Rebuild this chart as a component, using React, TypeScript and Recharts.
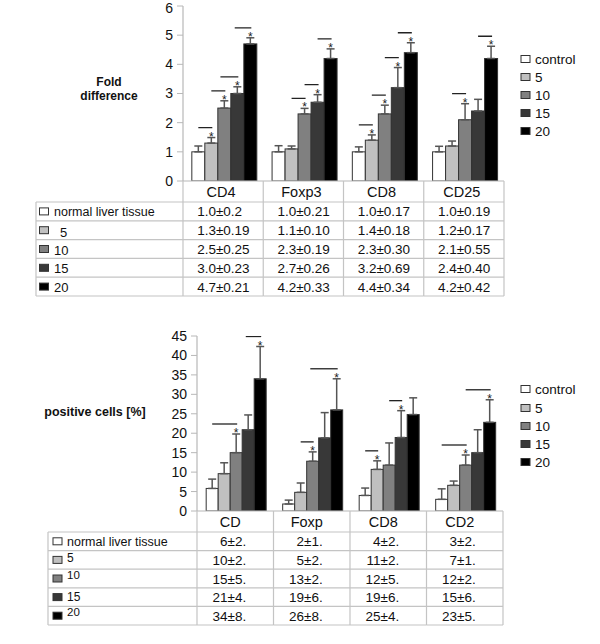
import React from 'react';
import { BarChart, Bar, XAxis, YAxis, ErrorBar } from 'recharts';

const FONT = '"Liberation Sans", Arial, Helvetica, sans-serif';

// ---------- shared ----------
const seriesNames = ['control', '5', '10', '15', '20'];
const tableRowLabels = ['normal liver tissue', '5', '10', '15', '20'];
const seriesKeys = ['c', 's5', 's10', 's15', 's20'];
const seriesFills = ['#ffffff', '#c0c0c0', '#808080', '#383838', '#000000'];

// ---------- top panel: fold difference ----------
const foldCategories = ['CD4', 'Foxp3', 'CD8', 'CD25'];
const foldYTicks = [0, 1, 2, 3, 4, 5, 6];
const foldControl = [1.0, 1.0, 1.0, 1.0];
const fold5 = [1.3, 1.1, 1.4, 1.2];
const fold10 = [2.5, 2.3, 2.3, 2.1];
const fold15 = [3.0, 2.7, 3.2, 2.4];
const fold20 = [4.7, 4.2, 4.4, 4.2];
const foldControlErr = [0.2, 0.21, 0.17, 0.19];
const fold5Err = [0.19, 0.1, 0.18, 0.17];
const fold10Err = [0.25, 0.19, 0.3, 0.55];
const fold15Err = [0.23, 0.26, 0.69, 0.4];
const fold20Err = [0.21, 0.33, 0.34, 0.42];
// significance: 0 = none, n = bracket reaching n bars back
const foldSigControl = [0, 0, 0, 0];
const foldSig5 = [1, 0, 1, 0];
const foldSig10 = [1, 1, 1, 1];
const foldSig15 = [1.3, 1, 1, 0];
const foldSig20 = [1.2, 1, 1, 1];
const foldTableControl = ['1.0±0.2', '1.0±0.21', '1.0±0.17', '1.0±0.19'];
const foldTable5 = ['1.3±0.19', '1.1±0.10', '1.4±0.18', '1.2±0.17'];
const foldTable10 = ['2.5±0.25', '2.3±0.19', '2.3±0.30', '2.1±0.55'];
const foldTable15 = ['3.0±0.23', '2.7±0.26', '3.2±0.69', '2.4±0.40'];
const foldTable20 = ['4.7±0.21', '4.2±0.33', '4.4±0.34', '4.2±0.42'];

// ---------- bottom panel: positive cells ----------
const posCategories = ['CD', 'Foxp', 'CD8', 'CD2'];
const posYTicks = [0, 5, 10, 15, 20, 25, 30, 35, 40, 45];
const posControl = [5.8, 1.8, 4.0, 3.0];
const pos5 = [9.6, 4.8, 10.7, 6.6];
const pos10 = [15.0, 12.8, 11.8, 11.8];
const pos15 = [20.9, 18.8, 18.9, 15.0];
const pos20 = [34.0, 26.0, 24.8, 22.8];
const posControlErr = [2.4, 1.0, 1.9, 2.7];
const pos5Err = [2.8, 2.4, 2.2, 1.1];
const pos10Err = [4.8, 2.4, 5.7, 2.6];
const pos15Err = [3.8, 6.5, 6.9, 5.9];
const pos20Err = [8.3, 8.0, 4.3, 5.8];
const posSigControl = [0, 0, 0, 0];
const posSig5 = [0, 0, 1, 0];
const posSig10 = [2, 1, 0, 2];
const posSig15 = [0, 0, 1, 0];
const posSig20 = [1.2, 2.2, 0, 2];
const posTableControl = ['6±2.', '2±1.', '4±2.', '3±2.'];
const posTable5 = ['10±2.', '5±2.', '11±2.', '7±1.'];
const posTable10 = ['15±5.', '13±2.', '12±5.', '12±2.'];
const posTable15 = ['21±4.', '19±6.', '19±6.', '15±6.'];
const posTable20 = ['34±8.', '26±8.', '25±4.', '23±5.'];

type Cfg = {
  top: number;
  height: number;
  margin: { top: number; right: number; bottom: number; left: number };
  plotLeft: number;
  plotRight: number;
  xAxisH: number;
  headerH: number;
  rowH: number;
  yDomain: [number, number];
  yTicks: number[];
  categories: string[];
  means: number[][];
  errs: number[][];
  sigs: number[][];
  table: string[][];
  headerDx: number;
  valueAnchor: 'start' | 'end';
  valueDx: number;
  catGap: string;
};

const topCfg: Cfg = {
  top: 0,
  height: 300,
  margin: { top: 6, right: 96, bottom: 4, left: 143 },
  plotLeft: 183,
  plotRight: 504,
  xAxisH: 115,
  headerH: 21,
  rowH: 18.8,
  yDomain: [0, 6],
  yTicks: foldYTicks,
  categories: foldCategories,
  means: [foldControl, fold5, fold10, fold15, fold20],
  errs: [foldControlErr, fold5Err, fold10Err, fold15Err, fold20Err],
  sigs: [foldSigControl, foldSig5, foldSig10, foldSig15, foldSig20],
  table: [foldTableControl, foldTable5, foldTable10, foldTable15, foldTable20],
  headerDx: -2,
  valueAnchor: 'start',
  valueDx: -26,
  catGap: '11%',
};

const botCfg: Cfg = {
  top: 320,
  height: 310,
  margin: { top: 16, right: 97, bottom: 5, left: 157 },
  plotLeft: 197,
  plotRight: 503,
  xAxisH: 114,
  headerH: 21,
  rowH: 18.6,
  yDomain: [0, 45],
  yTicks: posYTicks,
  categories: posCategories,
  means: [posControl, pos5, pos10, pos15, pos20],
  errs: [posControlErr, pos5Err, pos10Err, pos15Err, pos20Err],
  sigs: [posSigControl, posSig5, posSig10, posSig15, posSig20],
  table: [posTableControl, posTable5, posTable10, posTable15, posTable20],
  headerDx: -5,
  valueAnchor: 'end',
  valueDx: 11,
  catGap: '12%',
};

const buildRows = (cfg: Cfg) =>
  cfg.categories.map((cat, i) => {
    const r: any = { cat, i };
    seriesKeys.forEach((k, s) => {
      r[k] = cfg.means[s][i];
      r[k + 'e'] = [0, cfg.errs[s][i]];
    });
    return r;
  });

const makeShape = (cfg: Cfg, s: number) => (props: any) => {
  const { x, y, width, height, payload } = props;
  const i = payload && typeof payload.i === 'number' ? payload.i : props.index;
  const v = cfg.means[s][i];
  const e = cfg.errs[s][i];
  const span = cfg.sigs[s][i];
  const ppu = v ? height / v : 0;
  const errTop = y - e * ppu;
  const cx = x + width / 2;
  return (
    <g>
      <rect x={x} y={y} width={width} height={height} fill={seriesFills[s]} stroke="#333" strokeWidth={1} />
      {span > 0 ? (
        <g>
          <line x1={cx - span * width} x2={cx + 1} y1={errTop - 10} y2={errTop - 10} stroke="#222" strokeWidth={1.3} />
          <text x={cx} y={errTop + 3} textAnchor="middle" fontSize={12} fill="#222" fontFamily={FONT}>
            *
          </text>
        </g>
      ) : null}
    </g>
  );
};

const LINE = '#c4c4c4';

const makeTick = (cfg: Cfg) => (props: any) => {
  const { x, y, payload } = props;
  const i = cfg.categories.indexOf(payload.value);
  const cw = (cfg.plotRight - cfg.plotLeft) / cfg.categories.length;
  const l = x - cw / 2;
  const r = x + cw / 2;
  const tableH = cfg.headerH + cfg.rowH * 5;
  const hs = [0, 1, 2, 3, 4, 5].map((k) => y + cfg.headerH + k * cfg.rowH);
  return (
    <g>
      {i === 0 ? <line x1={l} x2={l} y1={y} y2={y + tableH} stroke={LINE} strokeWidth={1.2} /> : null}
      <line x1={r} x2={r} y1={y} y2={y + tableH} stroke={LINE} strokeWidth={1.2} />
      {hs.map((hy, k) => (
        <line key={k} x1={l} x2={r} y1={hy} y2={hy} stroke={LINE} strokeWidth={1.2} />
      ))}
      <text x={x + cfg.headerDx} y={y + cfg.headerH / 2 + 5} textAnchor="middle" fontSize={14.5} fill="#111" fontFamily={FONT}>
        {payload.value}
      </text>
      {cfg.table.map((row, k) => (
        <text
          key={k}
          x={x + cfg.valueDx}
          y={y + cfg.headerH + k * cfg.rowH + cfg.rowH / 2 + 5}
          textAnchor={cfg.valueAnchor}
          fontSize={13.5}
          fill="#111"
          fontFamily={FONT}
        >
          {row[i]}
        </text>
      ))}
    </g>
  );
};

const YTick = (props: any) => {
  const { x, y, payload } = props;
  const ty = Math.max(y, 8.5);
  return (
    <text x={x} y={ty} dy="0.355em" textAnchor="end" fontSize={14} fill="#111" fontFamily={FONT}>
      {payload.value}
    </text>
  );
};

function Panel({ cfg }: { cfg: Cfg }) {
  const rows = buildRows(cfg);
  return (
    <div style={{ position: 'absolute', left: 0, top: cfg.top, width: 600, height: cfg.height }}>
      <BarChart
        width={600}
        height={cfg.height}
        data={rows}
        margin={cfg.margin}
        barCategoryGap={cfg.catGap}
        barGap={0}
      >
        <XAxis
          dataKey="cat"
          height={cfg.xAxisH}
          interval={0}
          tickLine={false}
          tickSize={0}
          tickMargin={0}
          axisLine={{ stroke: '#b8b8b8', strokeWidth: 1.2 }}
          tick={makeTick(cfg)}
        />
        <YAxis
          width={40}
          domain={cfg.yDomain}
          ticks={cfg.yTicks}
          interval={0}
          tickSize={6}
          tickMargin={4}
          axisLine={{ stroke: '#b8b8b8', strokeWidth: 1.2 }}
          tickLine={{ stroke: '#b8b8b8' }}
          tick={<YTick />}
          allowDataOverflow
        />
        {seriesKeys.map((k, s) => (
          <Bar key={k} dataKey={k} name={seriesNames[s]} fill={seriesFills[s]} isAnimationActive={false} shape={makeShape(cfg, s)}>
            <ErrorBar dataKey={k + 'e'} width={4} stroke="#555" strokeWidth={1.5} direction="y" />
          </Bar>
        ))}
      </BarChart>
    </div>
  );
}

function Legend({ x, ys }: { x: number; ys: number[] }) {
  return (
    <g>
      {seriesNames.map((n, s) => (
        <g key={n}>
          <rect x={x} y={ys[s] - 3.5} width={9} height={7} fill={seriesFills[s]} stroke="#333" strokeWidth={1} />
          <text x={x + 14} y={ys[s] + 5} fontSize={13.5} fill="#111" fontFamily={FONT}>
            {n}
          </text>
        </g>
      ))}
    </g>
  );
}

function RowHeads({
  left,
  right,
  top,
  rowH,
  swX,
  txX,
  dys,
  dxs,
  sizes,
}: {
  left: number;
  right: number;
  top: number;
  rowH: number;
  swX: number;
  txX: number;
  dys: number[];
  dxs: number[];
  sizes: number[];
}) {
  const hs = [0, 1, 2, 3, 4, 5].map((k) => top + k * rowH);
  return (
    <g>
      <line x1={left} x2={left} y1={top} y2={top + 5 * rowH} stroke={LINE} strokeWidth={1.2} />
      {hs.map((hy, k) => (
        <line key={k} x1={left} x2={right} y1={hy} y2={hy} stroke={LINE} strokeWidth={1.2} />
      ))}
      {tableRowLabels.map((lab, k) => {
        const cy = top + k * rowH + rowH / 2;
        return (
          <g key={k}>
            <rect x={swX} y={cy - 3.5} width={9} height={7} fill={seriesFills[k]} stroke="#333" strokeWidth={1} />
            <text x={txX + dxs[k]} y={cy + 4.5 + dys[k]} fontSize={sizes[k]} fill="#111" fontFamily={FONT}>
              {lab}
            </text>
          </g>
        );
      })}
    </g>
  );
}

export default function App() {
  return (
    <div style={{ position: 'absolute', left: 0, top: 0, width: 600, height: 644, background: '#fff', fontFamily: FONT }}>
      <Panel cfg={topCfg} />
      <Panel cfg={botCfg} />
      <svg width={600} height={644} style={{ position: 'absolute', left: 0, top: 0, pointerEvents: 'none' }}>
        <text x={109} y={86} textAnchor="middle" fontSize={12} fontWeight="bold" fill="#111" fontFamily={FONT}>
          Fold
        </text>
        <text x={109} y={100} textAnchor="middle" fontSize={12} fontWeight="bold" fill="#111" fontFamily={FONT}>
          difference
        </text>
        <text x={95} y={416} textAnchor="middle" fontSize={12.5} fontWeight="bold" fill="#111" fontFamily={FONT}>
          positive cells [%]
        </text>
        <Legend x={521} ys={[59, 77, 95, 113, 131]} />
        <Legend x={521} ys={[389, 408, 426, 444, 462]} />
        <RowHeads
          left={36}
          right={183}
          top={202}
          rowH={18.8}
          swX={39.5}
          txX={54}
          dys={[0, 2, 1, 1, 1]}
          dxs={[0, 6, 0, 0, 0]}
          sizes={[12.5, 13, 13, 13, 13]}
        />
        <RowHeads
          left={48}
          right={197}
          top={532}
          rowH={18.6}
          swX={53}
          txX={67}
          dys={[0, -2, -4, -1, -4]}
          dxs={[0, 0, 0, 0, 0]}
          sizes={[12.5, 12, 11.5, 12, 11.5]}
        />
      </svg>
    </div>
  );
}
